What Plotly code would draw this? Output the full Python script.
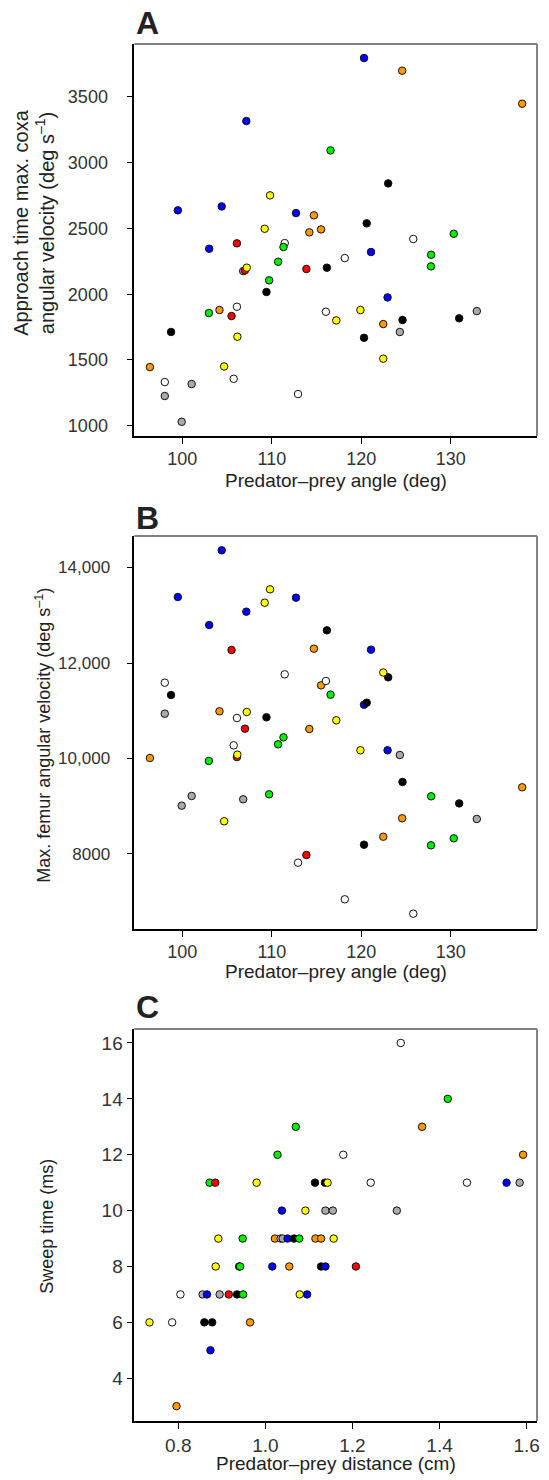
import plotly.graph_objects as go

# ---------------- data ----------------
COLORS = {
    "blue": "#0000ff", "green": "#00ee00", "yellow": "#ffff00", "orange": "#ff9900",
    "red": "#ff0000", "black": "#000000", "white": "#ffffff", "gray": "#aaaaaa",
}

# Panels A & B share the same trials (predator-prey angle)
angle = [107.15, 116.56, 109.8, 99.5, 104.4, 112.7, 114.7, 109.2, 115.5, 120.3,
         124.56, 137.97, 123.0, 120.6, 114.19, 106.1, 111.44, 111.3, 103.0, 110.7,
         113.86, 116.15, 106.8, 107.0, 107.2, 109.7, 109.4, 106.1, 102.97, 104.15,
         105.5, 116.04, 117.2, 98.74, 106.15, 96.38, 104.67, 98.04, 101.04, 105.74,
         98.04, 112.93, 99.93, 130.33, 125.8, 127.8, 127.78, 121.08, 118.15, 122.93,
         119.9, 122.45, 124.6, 124.3, 120.3, 132.9, 130.93, 122.45]
coxa_vel = [3317, 3094, 2752, 2638, 2668, 2617, 2600, 2498, 2493, 3796,
            3700, 3449, 2843, 2539, 2471, 2387, 2389, 2359, 2346, 2247,
            2192, 2202, 2176, 2182, 2202, 2106, 2017, 1905, 1857, 1880,
            1834, 1867, 1801, 1713, 1677, 1446, 1451, 1332, 1317, 1357,
            1226, 1241, 1030, 2460, 2420, 2300, 2212, 2321, 2275, 1976,
            1880, 1773, 1804, 1713, 1669, 1872, 1817, 1510]
femur_vel = [13075, 11337, 13543, 13382, 14360, 13368, 12300, 13263, 11532, 11127,
             8748, 9397, 11700, 11169, 10618, 10031, 11763, 10443, 12796, 10297,
             7979, 12684, 9145, 10624, 10974, 9250, 10862, 10848, 9948, 10988,
             12272, 11623, 10800, 11330, 10080, 10010, 8685, 11588, 9215, 10276,
             10938, 7818, 9012, 8328, 6750, 9208, 8182, 12279, 7051, 10172,
             10172, 8362, 9508, 10073, 8195, 8733, 9060, 11801]
group_ab = ["blue", "green", "yellow", "blue", "blue", "blue", "orange", "yellow", "orange", "blue",
            "orange", "orange", "black", "black", "orange", "red", "white", "green", "blue", "green",
            "red", "black", "gray", "red", "yellow", "green", "black", "white", "green", "orange",
            "red", "white", "yellow", "black", "yellow", "orange", "yellow", "white", "gray", "white",
            "gray", "white", "gray", "green", "white", "green", "green", "blue", "white", "blue",
            "yellow", "orange", "black", "gray", "black", "gray", "black", "yellow"]

# Panel C
distance = [1.311, 1.419, 1.070, 1.360, 1.028, 1.179, 1.592,
            0.872, 0.885, 0.980, 1.114, 1.137, 1.143, 1.242, 1.463, 1.554, 1.584,
            1.038, 1.092, 1.138, 1.155, 1.302,
            0.892, 0.948, 1.022, 1.035, 1.040, 1.051, 1.066, 1.078, 1.115, 1.128, 1.157,
            0.886, 0.940, 0.942, 1.016, 1.055, 1.128, 1.138, 1.208,
            0.805, 0.856, 0.866, 0.895, 0.916, 0.935, 0.949, 1.079, 1.096,
            0.734, 0.786, 0.860, 0.878, 0.965,
            0.874, 0.796]
sweep = [16, 14, 13, 13, 12, 12, 12,
         11, 11, 11, 11, 11, 11, 11, 11, 11, 11,
         10, 10, 10, 10, 10,
         9, 9, 9, 9, 9, 9, 9, 9, 9, 9, 9,
         8, 8, 8, 8, 8, 8, 8, 8,
         7, 7, 7, 7, 7, 7, 7, 7, 7,
         6, 6, 6, 6, 6,
         5, 3]
group_c = ["white", "green", "green", "orange", "green", "white", "orange",
           "green", "red", "yellow", "black", "black", "yellow", "white", "white", "blue", "gray",
           "blue", "yellow", "gray", "gray", "gray",
           "yellow", "green", "orange", "gray", "gray", "blue", "black", "green", "orange", "orange", "yellow",
           "yellow", "black", "green", "blue", "orange", "black", "blue", "red",
           "white", "gray", "blue", "gray", "red", "black", "green", "yellow", "blue",
           "yellow", "white", "black", "black", "orange",
           "blue", "orange"]

angle_ticks = [100, 110, 120, 130]
coxa_ticks = [1000, 1500, 2000, 2500, 3000, 3500]
femur_ticks = [8000, 10000, 12000, 14000]
femur_ticklabels = ["8000", "10,000", "12,000", "14,000"]
dist_ticks = [0.8, 1.0, 1.2, 1.4, 1.6]
dist_ticklabels = ["0.8", "1.0", "1.2", "1.4", "1.6"]
sweep_ticks = [4, 6, 8, 10, 12, 14, 16]

# ---------------- figure ----------------
W, H = 549, 1480
FONT = "Arial, Liberation Sans, sans-serif"

def px_x(p):
    return p / W

def px_y(p):
    return 1 - p / H

fig = go.Figure()

marker_common = dict(size=7.5, line=dict(color="#111111", width=1))

fig.add_trace(go.Scatter(x=angle, y=coxa_vel, mode="markers", xaxis="x", yaxis="y",
                         marker=dict(color=[COLORS[g] for g in group_ab], **marker_common),
                         showlegend=False, hoverinfo="skip"))
fig.add_trace(go.Scatter(x=angle, y=femur_vel, mode="markers", xaxis="x2", yaxis="y2",
                         marker=dict(color=[COLORS[g] for g in group_ab], **marker_common),
                         showlegend=False, hoverinfo="skip"))
fig.add_trace(go.Scatter(x=distance, y=sweep, mode="markers", xaxis="x3", yaxis="y3",
                         marker=dict(color=[COLORS[g] for g in group_c], **marker_common),
                         showlegend=False, hoverinfo="skip"))

x_dom = [px_x(135), px_x(540)]
doms = {
    "A": [px_y(436), px_y(44)],
    "B": [px_y(929), px_y(536)],
    "C": [px_y(1421), px_y(1029)],
}

def axis_style(size=18, standoff=None):
    d = dict(showline=True, linecolor="#000000", linewidth=1.5, ticks="outside",
             ticklen=6, tickwidth=1.2, tickcolor="#000000", showgrid=False,
             zeroline=False, tickfont=dict(family=FONT, size=size, color="#333333"))
    if standoff is not None:
        d["ticklabelstandoff"] = standoff
    return d

fig.update_layout(
    width=W, height=H, margin=dict(l=0, r=0, t=0, b=0),
    paper_bgcolor="white", plot_bgcolor="white",
    font=dict(family=FONT, color="#222222"),
    xaxis=dict(domain=x_dom, range=[94.63, 139.63], tickvals=angle_ticks, anchor="y",
               **axis_style(18)),
    yaxis=dict(domain=doms["A"], range=[922, 3903], tickvals=coxa_ticks, anchor="x",
               **axis_style(18, 15)),
    xaxis2=dict(domain=x_dom, range=[94.63, 139.63], tickvals=angle_ticks, anchor="y2",
                **axis_style(18)),
    yaxis2=dict(domain=doms["B"], range=[6429, 14660], tickvals=femur_ticks,
                ticktext=femur_ticklabels, anchor="x2", **axis_style(17, 13)),
    xaxis3=dict(domain=x_dom, range=[0.699, 1.624], tickvals=dist_ticks,
                ticktext=dist_ticklabels, anchor="y3", **axis_style(19)),
    yaxis3=dict(domain=doms["C"], range=[2.47, 16.5], tickvals=sweep_ticks, anchor="x3",
                **axis_style(19)),
)

# gray top/right frame lines
for xa, ya in [("x", "y"), ("x2", "y2"), ("x3", "y3")]:
    fig.add_shape(type="line", xref=f"{xa} domain", yref=f"{ya} domain",
                  x0=0, x1=1, y0=1, y1=1, line=dict(color="#808080", width=2))
    fig.add_shape(type="line", xref=f"{xa} domain", yref=f"{ya} domain",
                  x0=1, x1=1, y0=0, y1=1, line=dict(color="#808080", width=2))

ann = []
def add_text(text, x, y, size, angle=0, bold=False, xanchor="center", yanchor="middle"):
    ann.append(dict(text=f"<b>{text}</b>" if bold else text, x=px_x(x), y=px_y(y),
                    xref="paper", yref="paper", showarrow=False, textangle=angle,
                    xanchor=xanchor, yanchor=yanchor,
                    font=dict(family=FONT, size=size, color="#222222")))

# panel letters
add_text("A", 135, 23, 32, bold=True, xanchor="left")
add_text("B", 135, 518, 32, bold=True, xanchor="left")
add_text("C", 135, 1007, 32, bold=True, xanchor="left")

# x titles
add_text("Predator–prey angle (deg)", 338, 480, 19)
add_text("Predator–prey angle (deg)", 338, 971, 19)
add_text("Predator–prey distance (cm)", 338, 1463, 19)

# y titles
add_text("Approach time max. coxa<br>angular velocity (deg s<sup>–1</sup>)", 34, 222, 20, angle=-90)
add_text("Max. femur angular velocity (deg s<sup>–1</sup>)", 43, 735, 18, angle=-90)
add_text("Sweep time (ms)", 47, 1226, 18, angle=-90)

fig.update_layout(annotations=ann)

# remove the default 8px body margin so the figure fills the 549x1480 page exactly
fig.write_html("out.html", config={"displayModeBar": False},
               post_script="document.body.style.margin='0';")
